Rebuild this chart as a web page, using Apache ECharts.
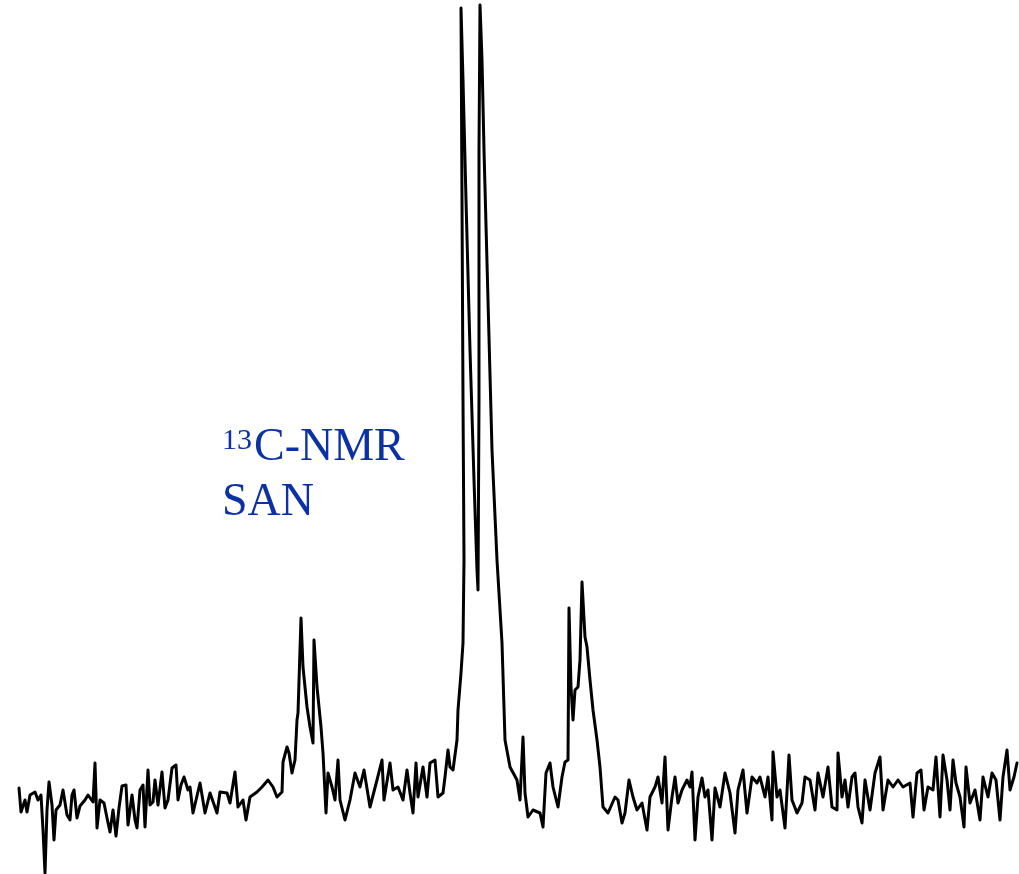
<!DOCTYPE html>
<html>
<head>
<meta charset="utf-8">
<script src="https://cdn.jsdelivr.net/npm/echarts@6/dist/echarts.min.js"></script>
<style>
  html, body { margin: 0; padding: 0; background: #fff; }
  #chart { width: 1019px; height: 874px; }
</style>
</head>
<body>
<div id="chart"></div>
<script>
// spectrum trace: [channel, intensity], baseline ~ 0
const baselineLeft = [
  [19, 12], [21, -12], [25, 0], [27, -12], [30, 5], [35, 8], [38, 0], [41, 5], [43, -30], [45, -73],
  [47, -10], [49, 18], [52, -5], [54, -40], [56, -10], [60, -5], [63, 10], [67, -15], [70, -20], [72, 5],
  [74, 10], [77, -18], [80, -6], [85, 0], [88, 5], [93, -2], [95, 37], [97, -28], [100, 0], [104, -3],
  [107, -18], [110, -32], [113, -10], [116, -36], [119, -8], [122, 14], [126, 15], [128, -25], [132, 5], [135, -20],
  [137, -28], [140, 10], [143, 15], [145, -27], [148, 30], [150, -5], [153, -2], [155, 20], [158, -5], [162, 28],
  [165, -8], [168, 0], [172, 32], [176, 35], [178, 0], [181, 15], [184, 23], [188, 10], [190, 13], [193, -13],
  [200, 17], [205, -13], [210, 7], [217, -13], [220, 8], [227, 7], [230, -3], [235, 28], [238, -7], [243, 0],
  [246, -20], [250, 3], [257, 8], [262, 13], [268, 20], [273, 13], [277, 3], [282, 8]
];

const leftPeak = [
  [283, 38], [287, 53], [289, 47], [292, 27], [295, 40], [297, 80], [298, 87], [301, 182], [303, 133], [307, 93],
  [310, 73], [313, 57], [314, 160], [317, 113], [321, 73], [323, 47], [326, -13], [328, 27]
];

const baselineMiddle = [
  [332, 13], [335, 0], [338, 40], [340, 0], [345, -20], [350, 0], [355, 27], [360, 13], [364, 30], [370, -7],
  [377, 20], [382, 40], [384, 0], [390, 37], [393, 10], [398, 13], [403, 0], [407, 30], [410, 7], [413, -13],
  [416, 37], [418, 3], [423, 33], [427, 3], [430, 37], [435, 40], [438, 3], [443, 7], [445, 23], [448, 50],
  [450, 33], [453, 30], [457, 60], [458, 90]
];

const mainPeak = [
  [461, 127], [463, 157], [464, 240], [463, 400], [462, 600], [461, 792], [463, 720], [466, 600], [470, 450], [474, 320],
  [477, 230], [478, 210], [479, 400], [479, 650], [480, 795], [482, 740], [484, 650], [488, 500], [492, 350], [497, 240],
  [502, 157], [505, 60], [510, 33], [517, 20], [520, 0], [523, 63], [525, 7], [528, -17], [533, -10], [540, -13],
  [543, -27], [546, 27], [550, 37], [553, 13], [558, -7], [562, 23], [565, 38]
];

const rightPeak = [
  [568, 40], [569, 192], [571, 113], [573, 80], [575, 110], [578, 113], [580, 140], [582, 218], [585, 163], [587, 153],
  [590, 120], [593, 90], [597, 60], [600, 33]
];

const baselineRight = [
  [603, -7], [608, -13], [615, 3], [618, 0], [622, -23], [625, -13], [629, 20], [633, 3], [637, -10], [642, -3],
  [647, -30], [650, 3], [655, 13], [658, 23], [662, -3], [665, 43], [668, -30], [672, 3], [675, 23], [678, -3],
  [682, 10], [687, 20], [690, 13], [692, 28], [695, -40], [698, 3], [702, 22], [705, 3], [708, 10], [712, -40],
  [715, 12], [720, -7], [725, 27], [730, 7], [735, -33], [738, 10], [743, 30], [747, -13], [752, 23], [757, 17],
  [760, 23], [765, 3], [768, 23], [772, -20], [773, 48], [777, 3], [780, 10], [785, -28], [789, 45], [792, 0],
  [797, -13], [802, -3], [805, 23], [810, 20], [815, -10], [818, 27], [823, 3], [828, 33], [832, -7], [837, -10],
  [838, 47], [842, 3], [845, 20], [848, -7], [852, 23], [855, 27], [858, -7], [862, -23], [865, 20], [870, -10],
  [875, 27], [880, 43], [883, -10], [888, 20], [893, 13], [898, 20], [903, 13], [910, 17], [913, -17], [917, 27],
  [921, 30], [924, -10], [928, 13], [933, 10], [936, 43], [940, -17], [943, 45], [947, 20], [950, -10], [953, 40],
  [956, 17], [960, 3], [964, -27], [966, 33], [970, -3], [975, 10], [980, -20], [983, 23], [988, 3], [992, 27],
  [996, 20], [1000, -20], [1003, 23], [1007, 50], [1010, 10], [1014, 23], [1017, 37]
];

const spectrum = [].concat(baselineLeft, leftPeak, baselineMiddle, mainPeak, rightPeak, baselineRight);

const LABEL_COLOR = '#0b31a5';
const LABEL_FONT = '"Liberation Serif", "Times New Roman", serif';

const chart = echarts.init(document.getElementById('chart'), null, { renderer: 'canvas' });
chart.setOption({
  animation: false,
  backgroundColor: '#ffffff',
  grid: { left: 0, right: 0, top: 0, bottom: 0 },
  xAxis: { type: 'value', min: 0, max: 1019, show: false },
  yAxis: { type: 'value', min: -74, max: 800, show: false },
  graphic: [
    {
      type: 'text', left: 222, top: 426, silent: true,
      style: { text: '13', font: '30px ' + LABEL_FONT, fill: LABEL_COLOR }
    },
    {
      type: 'text', left: 254, top: 425, silent: true,
      style: { text: 'C-NMR', font: '46px ' + LABEL_FONT, fill: LABEL_COLOR }
    },
    {
      type: 'text', left: 222, top: 480, silent: true,
      style: { text: 'SAN', font: '46px ' + LABEL_FONT, fill: LABEL_COLOR }
    }
  ],
  series: [{
    type: 'line',
    data: spectrum,
    showSymbol: false,
    smooth: false,
    // scanned pen trace is a little heavier than the default line
    lineStyle: { color: '#000', width: 3, join: 'round', cap: 'round' }
  }]
});
</script>
</body>
</html>
